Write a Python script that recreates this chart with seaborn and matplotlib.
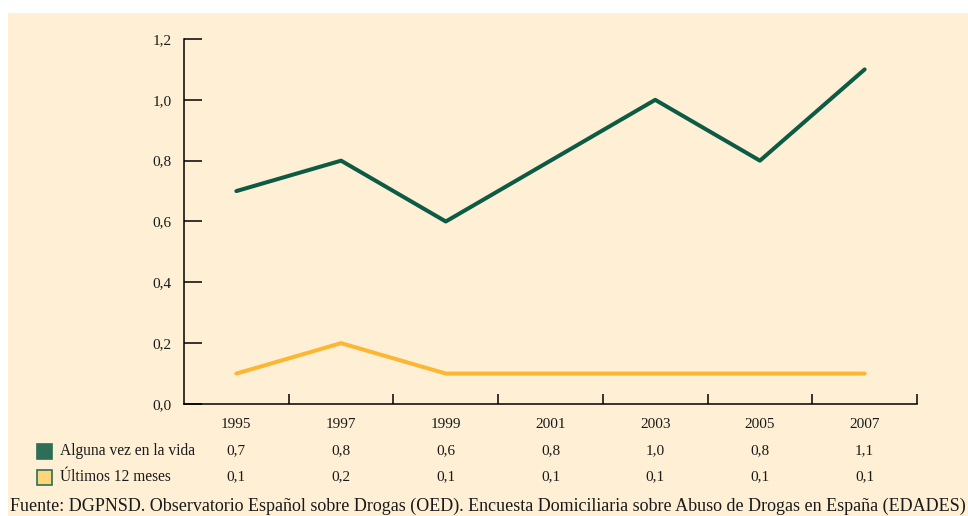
import matplotlib
matplotlib.use("Agg")
import matplotlib.pyplot as plt
from matplotlib.patches import Rectangle
from matplotlib.transforms import blended_transform_factory
import seaborn as sns
import pandas as pd

years = ["1995", "1997", "1999", "2001", "2003", "2005", "2007"]
alguna_vez = [0.7, 0.8, 0.6, 0.8, 1.0, 0.8, 1.1]
ultimos_12 = [0.1, 0.2, 0.1, 0.1, 0.1, 0.1, 0.1]
series_names = ["Alguna vez en la vida", "Últimos 12 meses"]
y_ticks = [0.0, 0.2, 0.4, 0.6, 0.8, 1.0, 1.2]
source = ("Fuente: DGPNSD. Observatorio Español sobre Drogas (OED). "
          "Encuesta Domiciliaria sobre Abuso de Drogas en España (EDADES)")

GREEN = "#0B5B45"
YELLOW = "#FBB733"
BG = "#FFF0D5"
TXT = "#1a1a1a"

sns.set_style("white")
plt.rcParams["font.family"] = ["Liberation Serif", "DejaVu Serif"]

W, H = 968, 516
fig = plt.figure(figsize=(W / 100, H / 100), dpi=100)
fig.patch.set_facecolor("white")
fig.patches.append(Rectangle((8 / W, 0), 1 - 8 / W, (H - 13) / H,
                             transform=fig.transFigure, facecolor=BG,
                             edgecolor="none", zorder=-10))

ax = fig.add_axes([184 / W, (H - 404) / H, 733 / W, 365 / H])
ax.set_facecolor("none")

df = pd.DataFrame({
    "x": list(range(len(years))) * 2,
    "valor": alguna_vez + ultimos_12,
    "serie": [series_names[0]] * len(years) + [series_names[1]] * len(years),
})
sns.lineplot(data=df, x="x", y="valor", hue="serie",
             palette={series_names[0]: GREEN, series_names[1]: YELLOW},
             linewidth=2.9, legend=False, ax=ax, solid_capstyle="round")

ax.set_xlim(-0.5, len(years) - 0.5)
ax.set_ylim(0, 1.2)
ax.set_xlabel("")
ax.set_ylabel("")

for s in ["top", "right"]:
    ax.spines[s].set_visible(False)
for s in ["left", "bottom"]:
    ax.spines[s].set_color("black")
    ax.spines[s].set_linewidth(1.1)

ax.set_yticks(y_ticks)
ax.set_yticklabels([f"{v:.1f}".replace(".", ",") for v in y_ticks])
ax.tick_params(axis="y", direction="in", length=13, width=1.1, color="black",
               pad=9, labelsize=11, labelcolor=TXT, left=True)
ax.set_xticks([i + 0.5 for i in range(len(years))])
ax.set_xticklabels([])
ax.tick_params(axis="x", direction="in", length=7, width=1.1, color="black",
               bottom=True)

trans = blended_transform_factory(ax.transData, ax.transAxes)
row_y = [-0.055, -0.129, -0.200]
for i, yr in enumerate(years):
    ax.text(i, row_y[0], yr, transform=trans, ha="center", va="center",
            fontsize=11, color=TXT)
    ax.text(i, row_y[1], f"{alguna_vez[i]:.1f}".replace(".", ","),
            transform=trans, ha="center", va="center", fontsize=11,
            color=TXT)
    ax.text(i, row_y[2], f"{ultimos_12[i]:.1f}".replace(".", ","),
            transform=trans, ha="center", va="center", fontsize=11,
            color=TXT)

# legend rows
sw = 15
for name, fc, ypx in [(series_names[0], "#2E6E57", 451),
                      (series_names[1], "#FDD57A", 477)]:
    fig.patches.append(Rectangle((37 / W, (H - ypx - sw / 2) / H), sw / W, sw / H,
                                 transform=fig.transFigure, facecolor=fc,
                                 edgecolor="#2E6E57", linewidth=1.2))
    fig.text(60 / W, (H - ypx) / H, name, ha="left", va="center",
             fontsize=11.2, color=TXT)

fig.text(10 / W, (H - 506) / H, source, ha="left", va="center",
         fontsize=13, color=TXT)

fig.savefig("out.png", dpi=100, facecolor=fig.get_facecolor())
